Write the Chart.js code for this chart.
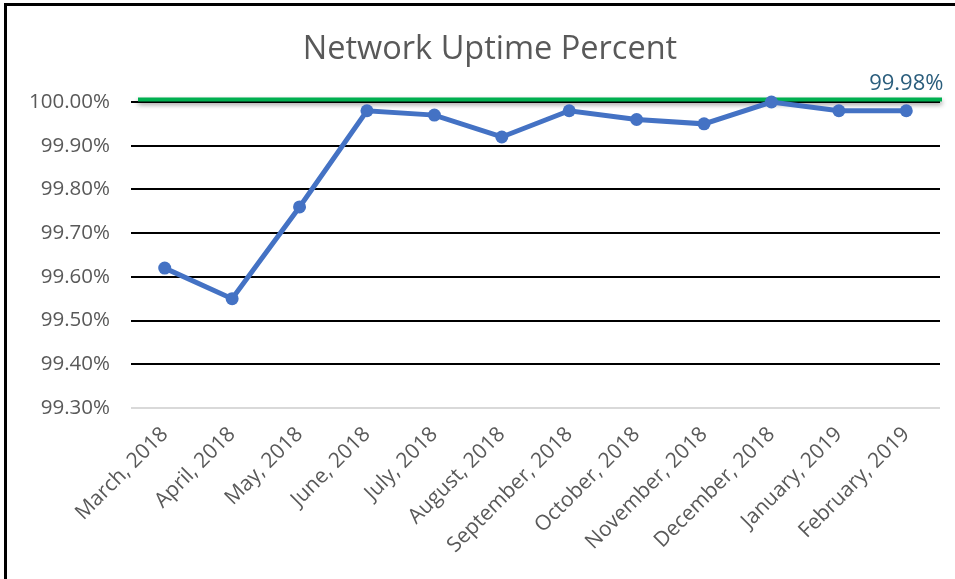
<!DOCTYPE html>
<html>
<head>
<meta charset="utf-8">
<script src="https://cdn.jsdelivr.net/npm/chart.js@4.4.1/dist/chart.umd.min.js"></script>
<style>
  html, body { margin: 0; padding: 0; background: #fff; }
  #wrap { position: absolute; left: 0; top: 0; width: 955px; height: 579px; }
  #frame { position: absolute; left: 4px; top: 3px; width: 951px; height: 576px;
           border-top: 3px solid #000; border-left: 3px solid #000; box-sizing: border-box; pointer-events: none; }
  canvas { position: absolute; left: 0; top: 0; }
</style>
</head>
<body>
<div id="wrap">
  <canvas id="c" width="955" height="579"></canvas>
  <div id="frame"></div>
</div>
<script>
const categories = ["March, 2018", "April, 2018", "May, 2018", "June, 2018", "July, 2018", "August, 2018",
  "September, 2018", "October, 2018", "November, 2018", "December, 2018", "January, 2019", "February, 2019"];
const uptime = [99.62, 99.55, 99.76, 99.98, 99.97, 99.92, 99.98, 99.96, 99.95, 100.00, 99.98, 99.98];
const targetValue = 100.00;
const targetLabel = "99.98%";
const chartTitle = "Network Uptime Percent";
const yMin = 99.3, yMax = 100.0, yStep = 0.1;

const FONT = "'Open Sans', sans-serif";

const overlay = {
  id: 'overlay',
  beforeDatasetsDraw(chart) {
    const { ctx, chartArea, scales } = chart;
    const y = scales.y.getPixelForValue(targetValue) - 2.5;
    ctx.save();
    ctx.shadowColor = 'rgba(0,0,0,0.45)';
    ctx.shadowBlur = 5;
    ctx.shadowOffsetY = 3;
    ctx.strokeStyle = '#00b050';
    ctx.lineWidth = 4;
    ctx.beginPath();
    ctx.moveTo(chartArea.left + 7, y);
    ctx.lineTo(chartArea.right + 2, y);
    ctx.stroke();
    ctx.restore();
  },
  afterDatasetsDraw(chart) {
    const { ctx, scales } = chart;
    const y = scales.y.getPixelForValue(targetValue);
    const x = scales.x.getPixelForValue(categories.length - 1);
    ctx.save();
    ctx.fillStyle = '#2a5d7c';
    ctx.font = "22px " + FONT;
    ctx.textAlign = 'center';
    ctx.textBaseline = 'alphabetic';
    ctx.fillText(targetLabel, x, y - 12);
    ctx.fillStyle = '#595959';
    ctx.font = "32.5px " + FONT;
    ctx.fillText(chartTitle, 490, 59);
    ctx.restore();
  }
};

new Chart(document.getElementById('c'), {
  type: 'line',
  data: {
    labels: categories,
    datasets: [{
      data: uptime,
      borderColor: '#4472c4',
      backgroundColor: '#4472c4',
      borderWidth: 5,
      pointRadius: 6.5,
      pointHoverRadius: 6.5,
      pointBackgroundColor: '#4472c4',
      pointBorderWidth: 0,
      tension: 0,
      clip: false
    }]
  },
  options: {
    responsive: false,
    animation: false,
    devicePixelRatio: 1,
    layout: { padding: { top: 102, left: 0, right: 15, bottom: 0 } },
    plugins: { legend: { display: false }, title: { display: false }, tooltip: { enabled: false } },
    scales: {
      x: {
        offset: true,
        grid: { display: false },
        border: { display: false },
        ticks: {
          maxRotation: 45, minRotation: 45, autoSkip: false,
          color: '#595959', font: { family: FONT, size: 21 }, padding: 6
        },
        afterFit(scale) { scale.height = 171; }
      },
      y: {
        min: yMin, max: yMax,
        grid: {
          drawTicks: false,
          lineWidth: 2,
          color(ctx) {
            if (ctx.tick && Math.abs(ctx.tick.value - yMin) < 1e-6) return '#d9d9d9';
            return '#000000';
          }
        },
        border: { display: false },
        ticks: {
          stepSize: yStep,
          color: '#595959',
          font: { family: FONT, size: 20.5 },
          padding: 21,
          callback(v) { return v.toFixed(2) + '%'; }
        },
        afterFit(scale) { scale.width = 131; }
      }
    }
  },
  plugins: [overlay]
});
</script>
</body>
</html>
